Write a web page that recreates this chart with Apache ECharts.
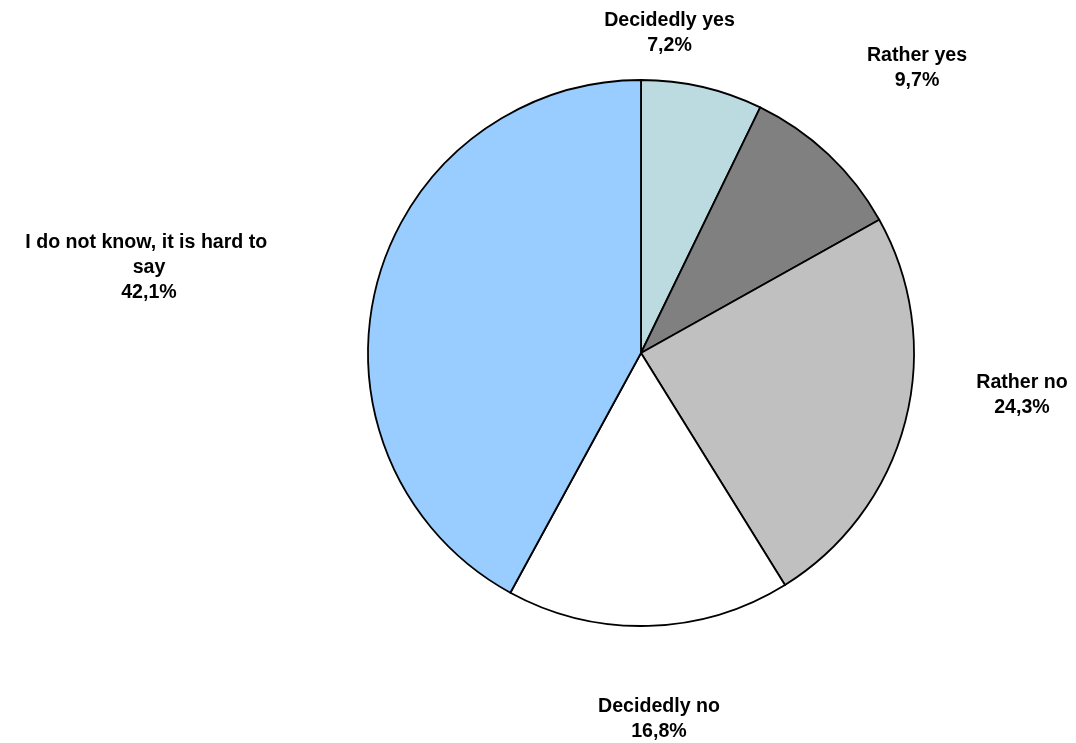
<!DOCTYPE html>
<html>
<head>
<meta charset="utf-8">
<script src="https://cdn.jsdelivr.net/npm/echarts@6/dist/echarts.min.js"></script>
<style>html,body{margin:0;padding:0;background:#fff;}#c{width:1076px;height:743px;}</style>
</head>
<body>
<div id="c"></div>
<script>
const categories = ['Decidedly yes', 'Rather yes', 'Rather no', 'Decidedly no', 'I do not know, it is hard to say'];
const values = [7.2, 9.7, 24.3, 16.8, 42.1];
const colors = ['#BCDBE0', '#808080', '#C0C0C0', '#FFFFFF', '#99CCFF'];
const labelPos = [[669.5, 33], [917, 68], [1022, 395], [659, 719], [149, 268]];

const chart = echarts.init(document.getElementById('c'), null, {renderer: 'canvas'});
chart.setOption({
  animation: false,
  backgroundColor: '#fff',
  series: [{
    type: 'pie',
    center: [641, 353],
    radius: 273,
    startAngle: 90,
    clockwise: true,
    avoidLabelOverlap: false,
    itemStyle: {borderColor: '#000', borderWidth: 1.8},
    labelLine: {show: false},
    label: {
      show: true,
      position: 'outside',
      fontFamily: 'Liberation Sans, Arial, sans-serif',
      fontWeight: 'bold',
      fontSize: 19.6,
      lineHeight: 25,
      color: '#000',
      align: 'center',
      width: 250,
      overflow: 'break',
      formatter: p => p.name + '\n' + p.value.toFixed(1).replace('.', ',') + '%'
    },
    labelLayout: p => ({x: labelPos[p.dataIndex][0], y: labelPos[p.dataIndex][1], align: 'center', verticalAlign: 'middle'}),
    data: categories.map((n, i) => ({name: n, value: values[i], itemStyle: {color: colors[i]}}))
  }]
});
</script>
</body>
</html>
